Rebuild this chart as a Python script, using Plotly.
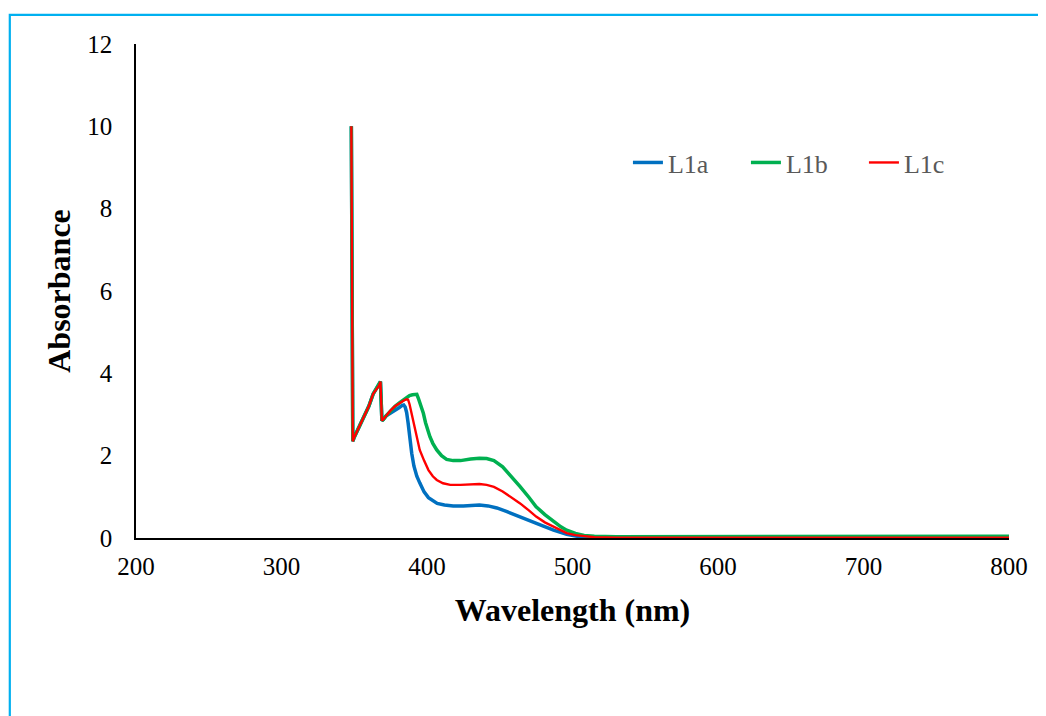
import plotly.graph_objects as go

# ---- data ----
wl_common = [348, 349, 350, 353, 356, 360, 363, 365, 366, 367, 368, 369, 370, 372]
abs_common = [10.0, 2.35, 2.45, 2.68, 2.88, 3.2, 3.5, 3.62, 3.65, 3.7, 3.8, 2.85, 2.88, 2.97]

wl_a = wl_common + [375, 378, 381, 383, 384, 385, 386, 387, 388, 389.5, 391, 393, 395, 398, 401, 404,
                    407, 412, 418, 425, 430, 436, 442, 448, 455, 464, 470, 475, 480, 487, 496, 505,
                    515, 530, 600, 700, 800]
abs_a = abs_common + [3.03, 3.1, 3.17, 3.22, 3.23, 3.18, 3.05, 2.8, 2.45, 2.06, 1.75, 1.5, 1.34, 1.12,
                      0.98, 0.9, 0.84, 0.8, 0.78, 0.78, 0.79, 0.8, 0.78, 0.73, 0.64, 0.52, 0.44, 0.36,
                      0.29, 0.19, 0.09, 0.03, 0.01, 0.005, 0.005, 0.005, 0.005]

wl_b = wl_common + [375, 378, 381, 384, 386, 388, 390, 392, 393, 394, 396, 397.5, 399, 400.5, 402, 404,
                    406.7, 410, 413.5, 418, 423, 430, 436, 441, 446, 452, 458, 464, 470, 475, 481, 487,
                    492, 496, 502, 508, 515, 530, 600, 700, 800]
abs_b = abs_common + [3.1, 3.2, 3.28, 3.36, 3.42, 3.46, 3.48, 3.5, 3.49, 3.4, 3.2, 3.03, 2.8, 2.6, 2.46,
                      2.3, 2.14, 2.0, 1.91, 1.88, 1.88, 1.92, 1.94, 1.93, 1.88, 1.73, 1.5, 1.25, 0.99,
                      0.76, 0.57, 0.4, 0.27, 0.19, 0.11, 0.06, 0.04, 0.03, 0.035, 0.04, 0.04]

wl_c = wl_common + [375, 378, 381, 384, 386, 387, 388, 389, 390.6, 392.5, 395, 398, 401, 404, 406.7, 411,
                    416, 423, 430, 436, 441, 446, 452, 458, 464, 470, 475, 481, 487, 492, 496, 502,
                    508, 515, 530, 600, 700, 800]
abs_c = abs_common + [3.1, 3.2, 3.28, 3.34, 3.37, 3.36, 3.25, 3.08, 2.87, 2.5, 2.14, 1.88, 1.65, 1.5,
                      1.41, 1.33, 1.29, 1.29, 1.3, 1.31, 1.29, 1.24, 1.13, 0.99, 0.84, 0.67, 0.52, 0.38,
                      0.27, 0.18, 0.12, 0.07, 0.04, 0.02, 0.01, 0.01, 0.01, 0.01]

names = ["L1a", "L1b", "L1c"]
colors = ["#0070C0", "#00B050", "#FF0000"]
widths = [3.5, 3.5, 2.4]

x_ticks = [200, 300, 400, 500, 600, 700, 800]
y_ticks = [0, 2, 4, 6, 8, 10, 12]

FONT = "Liberation Serif, Times New Roman, serif"

fig = go.Figure()
for xs, ys, n, c, w in zip([wl_a, wl_b, wl_c], [abs_a, abs_b, abs_c], names, colors, widths):
    fig.add_trace(go.Scatter(x=xs, y=ys, mode="lines", name=n,
                             line=dict(color=c, width=w)))

fig.update_layout(
    width=1038, height=708,
    margin=dict(l=128, r=37, t=36, b=178),
    paper_bgcolor="white", plot_bgcolor="white",
    font=dict(family=FONT, size=25, color="black"),
    showlegend=True,
    legend=dict(orientation="h", x=0.5635, y=0.76, xanchor="left", yanchor="middle",
                font=dict(family=FONT, size=26, color="#595959"),
                bgcolor="rgba(0,0,0,0)", entrywidth=73, entrywidthmode="pixels"),
    xaxis=dict(range=[200, 800], tickvals=x_ticks, showgrid=False, zeroline=False,
               showline=True, linecolor="black", linewidth=1.5, ticks="",
               tickfont=dict(family=FONT, size=25, color="black"),
               ticklabelstandoff=5,
               title=dict(text="<b>Wavelength (nm)</b>", font=dict(family=FONT, size=32), standoff=20)),
    yaxis=dict(range=[0, 12], tickvals=y_ticks, showgrid=False, zeroline=False,
               showline=True, linecolor="black", linewidth=1.5, ticks="",
               tickfont=dict(family=FONT, size=25, color="black"),
               ticklabelstandoff=17,
               title=dict(text="<b>Absorbance</b>", font=dict(family=FONT, size=32), standoff=7)),
    shapes=[dict(type="rect", xref="paper", yref="paper",
                 x0=(9.8 - 136) / 873, x1=(1070 - 136) / 873,
                 y0=(538 - 740) / 494, y1=(538 - 14.8) / 494,
                 line=dict(color="#00B0F0", width=2.2), fillcolor="rgba(0,0,0,0)", layer="below")],
)

fig.write_html("out.html")
